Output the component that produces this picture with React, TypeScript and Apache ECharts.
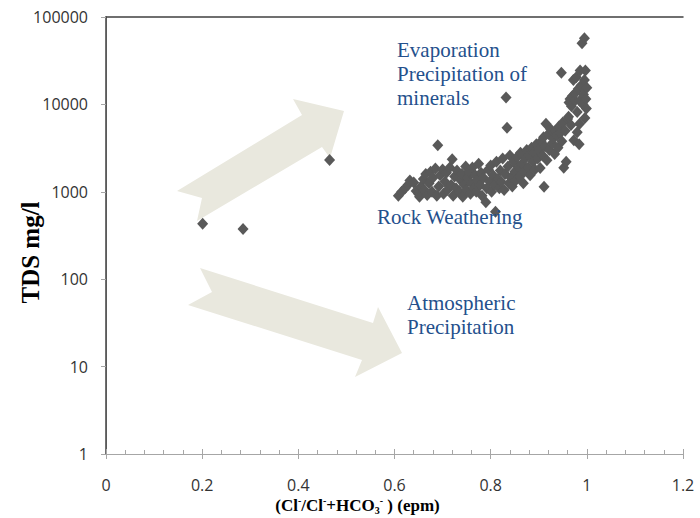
import React, { useEffect, useRef } from "react";
import * as echarts from "echarts";

// Cl/(Cl+HCO3) ratio vs TDS (mg/l)
const sampleRatio: number[] = [
  0.608, 0.615, 0.622, 0.628, 0.632, 0.64, 0.645, 0.65, 0.655, 0.66, 0.652, 0.662,
  0.665, 0.668, 0.672, 0.675, 0.678, 0.68, 0.685, 0.688, 0.69, 0.692, 0.695, 0.7, 0.702, 0.705,
  0.708, 0.71, 0.715, 0.718, 0.72, 0.722, 0.725, 0.728, 0.73, 0.735, 0.738, 0.74, 0.742, 0.745,
  0.748, 0.75,
  0.752, 0.755, 0.758, 0.76, 0.762, 0.765, 0.768, 0.77, 0.772, 0.775, 0.778, 0.78, 0.782, 0.785,
  0.79, 0.792, 0.795, 0.798, 0.8, 0.802, 0.805, 0.808, 0.81, 0.812, 0.815, 0.818, 0.82, 0.822,
  0.825, 0.828, 0.83, 0.832, 0.834, 0.836, 0.838, 0.84, 0.842, 0.845, 0.848, 0.85,
  0.852, 0.855, 0.858, 0.86, 0.862, 0.865, 0.868, 0.87, 0.872, 0.875, 0.878, 0.88, 0.882, 0.885,
  0.888, 0.89, 0.892, 0.895, 0.898, 0.9, 0.903, 0.905, 0.908, 0.91, 0.911, 0.913, 0.915, 0.917,
  0.92, 0.922,
  0.925, 0.928, 0.93, 0.933, 0.935, 0.938, 0.94, 0.942, 0.945, 0.947, 0.948, 0.95, 0.952, 0.955,
  0.957, 0.96, 0.962, 0.963, 0.965, 0.967, 0.968, 0.97, 0.972, 0.973, 0.975, 0.976, 0.978, 0.98,
  0.98, 0.982, 0.984, 0.985, 0.986, 0.988, 0.99, 0.992, 0.993, 0.995, 0.995, 0.997, 0.998, 1.0,
  0.999, 0.996, 0.985,
  0.201, 0.285, 0.465,
];

const sampleTDS: number[] = [
  900, 1000, 1100, 1200, 1350, 1280, 1020, 950, 1150, 1400, 880, 1050,
  1600, 920, 1250, 1700, 1000, 1450, 1850, 900, 3400, 1150, 1550, 1800, 950, 1300,
  1650, 1050, 1900, 1200, 2350, 900, 1500, 1100, 1750, 1000, 1350, 1600, 880, 1200,
  1950, 1050,
  1450, 1700, 950, 1250, 1900, 1100, 1550, 1000, 1350, 2100, 1200, 1650, 900, 1450,
  760, 1100, 1800, 1300, 2000, 1000, 1550, 1200, 590, 2200, 1400, 1100, 1750, 1300,
  2400, 1050, 1600, 12000, 5400, 1950, 1250, 2600, 1450, 1150, 2200, 1700,
  1350, 2500, 1900, 1500, 2800, 2100, 1250, 1700, 2400, 3000, 1900, 2600, 1550, 3200,
  2200, 2800, 1800, 3500, 2400, 3000, 1870, 3800, 2600, 4200, 1140, 3300, 6000, 2300,
  4600, 3000,
  5200, 3600, 4100, 2700, 5000, 4400, 3200, 5600, 4700, 23000, 3800, 6200, 1880, 5000,
  2200, 6800, 7200, 10500, 11500, 5800, 9500, 12500, 19000, 3900, 11000, 13500, 20500, 4800,
  8200, 15000, 3500, 11000, 24500, 16500, 50000, 10000, 13000, 57000, 19000, 24500, 11500, 15500,
  9000, 7000, 6000,
  430, 375, 2310,
];

const xTicks = { min: 0, max: 1.2, interval: 0.2 };
const yTicks = { min: 1, max: 100000 };

const annotations = [
  { text: "Evaporation\nPrecipitation of\nminerals", x: 397, y: 38 },
  { text: "Rock Weathering", x: 377, y: 205 },
  { text: "Atmospheric\nPrecipitation", x: 407, y: 291 },
];

const arrowUp: number[][] = [
  [177, 191], [302, 115], [293, 99], [344, 111], [330, 158], [322, 147], [197, 221], [202, 198],
];
const arrowDown: number[][] = [
  [200, 268], [373, 323], [378, 307], [402, 353], [355, 377], [362, 360], [188, 305], [212, 292],
];

export default function App() {
  const ref = useRef<HTMLDivElement>(null);
  useEffect(() => {
    if (!ref.current) return;
    const chart = echarts.init(ref.current, undefined, { renderer: "svg" });
    const data = sampleRatio.map((r, i) => [r, sampleTDS[i]]);
    const axisGray = "#a6a6a6";
    const frameDark = "#404040";
    const labelFont = "Open Sans";
    chart.setOption({
      animation: false,
      backgroundColor: "#ffffff",
      grid: { left: 106, right: 17, top: 17, bottom: 64, containLabel: false, outerBoundsMode: "none" },
      xAxis: [
        {
          type: "value",
          position: "bottom",
          min: xTicks.min,
          max: xTicks.max,
          interval: xTicks.interval,
          axisLine: { show: true, lineStyle: { color: axisGray, width: 1 } },
          axisTick: { show: true, inside: true, length: 5, lineStyle: { color: axisGray } },
          minorTick: { show: true, splitNumber: 5, length: 4, lineStyle: { color: axisGray } },
          splitLine: { show: false },
          axisLabel: {
            margin: 23,
            color: "#333333",
            fontFamily: labelFont,
            fontSize: 16,
          },
          name: "(Cl{sup|-}/Cl{sup|-}+HCO{sub|3}{sup|-} ) (epm)",
          nameLocation: "middle",
          nameGap: 41,
          nameMoveOverlap: false,
          nameTextStyle: {
            fontFamily: "Liberation Serif",
            fontWeight: "bold",
            fontSize: 17,
            color: "#000",
            padding: [0, 74, 0, 0],
            rich: {
              sup: { fontSize: 10, fontWeight: "bold", fontFamily: "Liberation Serif", verticalAlign: "top", lineHeight: 20, color: "#000" },
              sub: { fontSize: 10, fontWeight: "bold", fontFamily: "Liberation Serif", verticalAlign: "bottom", lineHeight: 20, color: "#000" },
            },
          },
        },
        {
          type: "value",
          position: "bottom",
          min: xTicks.min,
          max: xTicks.max,
          interval: xTicks.interval,
          axisLine: { show: false },
          axisTick: { show: true, inside: false, length: 5, lineStyle: { color: axisGray } },
          axisLabel: { show: false },
          splitLine: { show: false },
        },
        {
          type: "value",
          position: "top",
          min: xTicks.min,
          max: xTicks.max,
          axisLine: { show: true, lineStyle: { color: frameDark, width: 1.5 } },
          axisTick: { show: false },
          axisLabel: { show: false },
          splitLine: { show: false },
        },
      ],
      yAxis: [
        {
          type: "log",
          logBase: 10,
          position: "left",
          min: yTicks.min,
          max: yTicks.max,
          axisLine: { show: true, lineStyle: { color: axisGray, width: 1 } },
          axisTick: { show: true, inside: false, length: 5, lineStyle: { color: axisGray } },
          splitLine: { show: false },
          axisLabel: {
            margin: 18,
            color: "#333333",
            fontFamily: labelFont,
            fontSize: 16,
            formatter: (v: number) => String(Math.round(v)),
          },
          name: "TDS mg/l",
          nameLocation: "middle",
          nameGap: 63,
          nameMoveOverlap: false,
          nameTextStyle: {
            fontFamily: "Liberation Serif",
            fontWeight: "bold",
            fontSize: 25,
            color: "#000",
            padding: [0, 34, 0, 0],
          },
        },
        {
          type: "log",
          logBase: 10,
          position: "right",
          min: yTicks.min,
          max: yTicks.max,
          axisLine: { show: true, lineStyle: { color: frameDark, width: 1.5 } },
          axisTick: { show: false },
          axisLabel: { show: false },
          splitLine: { show: false },
        },
      ],
      graphic: [
        {
          type: "polygon",
          z: 1,
          shape: { points: arrowUp },
          style: { fill: "#e9e8de" },
        },
        {
          type: "polygon",
          z: 1,
          shape: { points: arrowDown },
          style: { fill: "#e9e8de" },
        },
        ...annotations.map((a) => ({
          type: "text",
          z: 10,
          x: a.x,
          y: a.y,
          style: {
            text: a.text,
            fill: "#24508c",
            font: "21px 'Liberation Serif'",
            lineHeight: 24,
            verticalAlign: "top",
          },
        })),
      ],
      series: [
        {
          type: "scatter",
          xAxisIndex: 0,
          yAxisIndex: 0,
          symbol: "diamond",
          symbolSize: [11, 12],
          itemStyle: { color: "#595959", opacity: 1 },
          data,
          z: 5,
        },
      ],
    });
    return () => chart.dispose();
  }, []);
  return (
    <div
      ref={ref}
      style={{ position: "fixed", left: 0, top: 0, width: 700, height: 518, background: "#fff" }}
    />
  );
}
